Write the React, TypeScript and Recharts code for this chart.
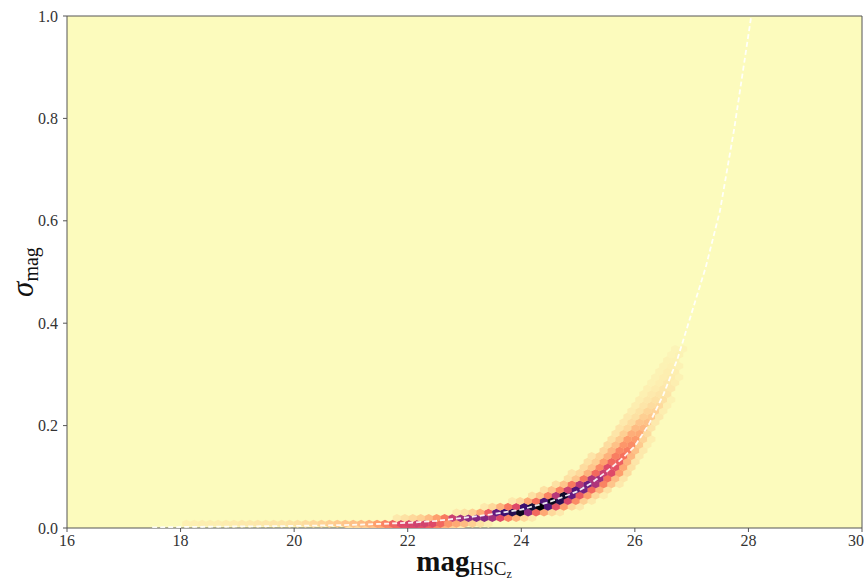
import React from 'react';
import { ComposedChart, Scatter, XAxis, YAxis, CartesianGrid, ReferenceLine } from 'recharts';

// tick marks
const xTicks = [16, 18, 20, 22, 24, 26, 28, 30];
const yTicks = [0, 0.2, 0.4, 0.6, 0.8, 1.0];

// white dashed error model curve [mag, sigma]
const modelCurve: [number, number][] = [
  [17.5, 0.001], [18, 0.002], [19, 0.003], [20, 0.004], [21, 0.006], [22, 0.01],
  [22.5, 0.014], [23, 0.02], [23.5, 0.027], [24, 0.036], [24.5, 0.051], [25, 0.072],
  [25.25, 0.089], [25.5, 0.11], [25.75, 0.133], [26, 0.16], [26.25, 0.203], [26.5, 0.26],
  [26.75, 0.33], [27, 0.42], [27.25, 0.51], [27.5, 0.62], [27.75, 0.78], [28.05, 1.0],
];

// hexbin cells [mag, sigma, level], level = log-count scaled 0..1
const bandBottom: [number, number, number][] = [
  [20.97, -0.0025, 0.06], [21.11, -0.0025, 0.08], [21.25, -0.0025, 0.1], [21.39, -0.0025, 0.13],
  [21.53, -0.0025, 0.18], [21.67, -0.0025, 0.25], [21.81, -0.0025, 0.32], [21.95, -0.0025, 0.38],
  [22.09, -0.0025, 0.4], [22.23, -0.0025, 0.38], [22.37, -0.0025, 0.33], [22.51, -0.0025, 0.25],
  [22.65, -0.0025, 0.16], [22.79, -0.0025, 0.1], [22.93, -0.0025, 0.05],
  [18.1, 0.0085, 0.025], [18.24, 0.0085, 0.025], [18.38, 0.0085, 0.03], [18.52, 0.0085, 0.03],
  [18.66, 0.0085, 0.03], [18.8, 0.0085, 0.035], [18.94, 0.0085, 0.035], [19.08, 0.0085, 0.04],
  [19.22, 0.0085, 0.04], [19.36, 0.0085, 0.045], [19.5, 0.0085, 0.045], [19.64, 0.0085, 0.05],
  [19.78, 0.0085, 0.05], [19.92, 0.0085, 0.055], [20.06, 0.0085, 0.06], [20.2, 0.0085, 0.07],
  [20.34, 0.0085, 0.08], [20.48, 0.0085, 0.09], [20.62, 0.0085, 0.1], [20.76, 0.0085, 0.11],
  [20.9, 0.0085, 0.12], [21.04, 0.0085, 0.13], [21.18, 0.0085, 0.14], [21.32, 0.0085, 0.16],
  [21.46, 0.0085, 0.2], [21.6, 0.0085, 0.26], [21.74, 0.0085, 0.33], [21.88, 0.0085, 0.4],
  [22.02, 0.0085, 0.42], [22.16, 0.0085, 0.44], [22.3, 0.0085, 0.43], [22.44, 0.0085, 0.4],
  [22.58, 0.0085, 0.32], [22.72, 0.0085, 0.22], [22.86, 0.0085, 0.18], [23.0, 0.0085, 0.14],
  [23.14, 0.0085, 0.1], [23.28, 0.0085, 0.06], [23.42, 0.0085, 0.03],
  [21.81, 0.0195, 0.04], [21.95, 0.0195, 0.06], [22.09, 0.0195, 0.08], [22.23, 0.0195, 0.1],
  [22.37, 0.0195, 0.14], [22.51, 0.0195, 0.2], [22.65, 0.0195, 0.28], [22.79, 0.0195, 0.45],
  [22.93, 0.0195, 0.55], [23.07, 0.0195, 0.6], [23.21, 0.0195, 0.62], [23.35, 0.0195, 0.62],
  [23.49, 0.0195, 0.55], [23.63, 0.0195, 0.4], [23.77, 0.0195, 0.26], [23.91, 0.0195, 0.16],
  [24.05, 0.0195, 0.08], [24.19, 0.0195, 0.04],
];

const bandCore: [number, number, number][] = [
  [22.86, 0.0305, 0.04], [23.0, 0.0305, 0.06], [23.14, 0.0305, 0.1], [23.28, 0.0305, 0.18],
  [23.42, 0.0305, 0.35], [23.56, 0.0305, 0.7], [23.7, 0.0305, 0.8], [23.84, 0.0305, 0.85],
  [23.98, 0.0305, 0.95], [24.12, 0.0305, 0.6], [24.26, 0.0305, 0.32], [24.4, 0.0305, 0.18],
  [24.54, 0.0305, 0.08], [24.68, 0.0305, 0.04],
  [23.35, 0.0415, 0.04], [23.49, 0.0415, 0.08], [23.63, 0.0415, 0.16], [23.77, 0.0415, 0.28],
  [23.91, 0.0415, 0.4], [24.05, 0.0415, 0.8], [24.19, 0.0415, 0.9], [24.33, 0.0415, 1.0],
  [24.47, 0.0415, 0.75], [24.61, 0.0415, 0.38], [24.75, 0.0415, 0.2], [24.89, 0.0415, 0.08],
  [25.03, 0.0415, 0.04],
  [23.84, 0.0525, 0.04], [23.98, 0.0525, 0.08], [24.12, 0.0525, 0.18], [24.26, 0.0525, 0.3],
  [24.4, 0.0525, 0.75], [24.54, 0.0525, 0.95], [24.68, 0.0525, 0.85], [24.82, 0.0525, 0.42],
  [24.96, 0.0525, 0.24], [25.1, 0.0525, 0.1], [25.24, 0.0525, 0.04],
  [24.19, 0.0635, 0.06], [24.33, 0.0635, 0.12], [24.47, 0.0635, 0.26], [24.61, 0.0635, 0.5],
  [24.75, 0.0635, 0.92], [24.89, 0.0635, 0.7], [25.03, 0.0635, 0.36], [25.17, 0.0635, 0.2],
  [25.31, 0.0635, 0.08], [25.45, 0.0635, 0.03],
  [24.4, 0.0745, 0.06], [24.54, 0.0745, 0.12], [24.68, 0.0745, 0.26], [24.82, 0.0745, 0.45],
  [24.96, 0.0745, 0.75], [25.1, 0.0745, 0.65], [25.24, 0.0745, 0.32], [25.38, 0.0745, 0.16],
  [25.52, 0.0745, 0.06],
  [24.61, 0.0855, 0.06], [24.75, 0.0855, 0.12], [24.89, 0.0855, 0.28], [25.03, 0.0855, 0.5],
  [25.17, 0.0855, 0.68], [25.31, 0.0855, 0.52], [25.45, 0.0855, 0.26], [25.59, 0.0855, 0.12],
  [25.73, 0.0855, 0.04],
  [24.82, 0.0965, 0.06], [24.96, 0.0965, 0.12], [25.1, 0.0965, 0.28], [25.24, 0.0965, 0.52],
  [25.38, 0.0965, 0.55], [25.52, 0.0965, 0.3], [25.66, 0.0965, 0.14], [25.8, 0.0965, 0.05],
];

const bandUpper: [number, number, number][] = [
  [24.89, 0.1075, 0.05], [25.03, 0.1075, 0.08], [25.17, 0.1075, 0.16], [25.31, 0.1075, 0.32],
  [25.45, 0.1075, 0.45], [25.59, 0.1075, 0.4], [25.73, 0.1075, 0.2], [25.87, 0.1075, 0.07],
  [25.1, 0.1185, 0.07], [25.24, 0.1185, 0.12], [25.38, 0.1185, 0.25], [25.52, 0.1185, 0.4],
  [25.66, 0.1185, 0.38], [25.8, 0.1185, 0.18], [25.94, 0.1185, 0.06],
  [25.17, 0.1295, 0.06], [25.31, 0.1295, 0.1], [25.45, 0.1295, 0.2], [25.59, 0.1295, 0.32],
  [25.73, 0.1295, 0.34], [25.87, 0.1295, 0.16], [26.01, 0.1295, 0.05],
  [25.24, 0.1405, 0.05], [25.38, 0.1405, 0.09], [25.52, 0.1405, 0.16], [25.66, 0.1405, 0.27],
  [25.8, 0.1405, 0.3], [25.94, 0.1405, 0.15], [26.08, 0.1405, 0.04],
  [25.45, 0.1515, 0.08], [25.59, 0.1515, 0.15], [25.73, 0.1515, 0.25], [25.87, 0.1515, 0.27],
  [26.01, 0.1515, 0.13], [26.15, 0.1515, 0.04],
  [25.52, 0.1625, 0.07], [25.66, 0.1625, 0.13], [25.8, 0.1625, 0.22], [25.94, 0.1625, 0.24],
  [26.08, 0.1625, 0.11], [26.22, 0.1625, 0.03],
  [25.59, 0.1735, 0.06], [25.73, 0.1735, 0.11], [25.87, 0.1735, 0.2], [26.01, 0.1735, 0.21],
  [26.15, 0.1735, 0.09], [26.29, 0.1735, 0.03],
  [25.66, 0.1845, 0.05], [25.8, 0.1845, 0.1], [25.94, 0.1845, 0.17], [26.08, 0.1845, 0.18],
  [26.22, 0.1845, 0.07],
  [25.73, 0.1955, 0.05], [25.87, 0.1955, 0.08], [26.01, 0.1955, 0.14], [26.15, 0.1955, 0.15],
  [26.29, 0.1955, 0.05],
  [25.8, 0.2065, 0.04], [25.94, 0.2065, 0.07], [26.08, 0.2065, 0.12], [26.22, 0.2065, 0.13],
  [26.36, 0.2065, 0.04],
];

const bandHalo: [number, number, number][] = [
  [25.87, 0.2175, 0.04], [26.01, 0.2175, 0.06], [26.15, 0.2175, 0.1], [26.29, 0.2175, 0.11],
  [26.43, 0.2175, 0.04],
  [25.94, 0.2285, 0.035], [26.08, 0.2285, 0.055], [26.22, 0.2285, 0.085], [26.36, 0.2285, 0.09],
  [26.5, 0.2285, 0.03],
  [26.01, 0.2395, 0.03], [26.15, 0.2395, 0.05], [26.29, 0.2395, 0.07], [26.43, 0.2395, 0.075],
  [26.57, 0.2395, 0.025],
  [26.08, 0.2505, 0.03], [26.22, 0.2505, 0.045], [26.36, 0.2505, 0.06], [26.5, 0.2505, 0.06],
  [26.64, 0.2505, 0.02],
  [26.15, 0.2615, 0.025], [26.29, 0.2615, 0.04], [26.43, 0.2615, 0.05], [26.57, 0.2615, 0.05],
  [26.22, 0.2725, 0.025], [26.36, 0.2725, 0.035], [26.5, 0.2725, 0.045], [26.64, 0.2725, 0.04],
  [26.29, 0.2835, 0.02], [26.43, 0.2835, 0.03], [26.57, 0.2835, 0.04], [26.71, 0.2835, 0.03],
  [26.36, 0.2945, 0.02], [26.5, 0.2945, 0.03], [26.64, 0.2945, 0.035], [26.78, 0.2945, 0.02],
  [26.43, 0.3055, 0.02], [26.57, 0.3055, 0.03], [26.71, 0.3055, 0.03],
  [26.5, 0.3165, 0.02], [26.64, 0.3165, 0.025], [26.78, 0.3165, 0.02],
  [26.57, 0.3275, 0.02], [26.71, 0.3275, 0.02],
  [26.64, 0.3385, 0.015], [26.78, 0.3385, 0.02],
  [26.71, 0.3495, 0.015], [26.85, 0.3495, 0.015],
];

const BG = '#fcfbbd';
const SERIF = '"Liberation Serif", "DejaVu Serif", serif';

// magma colormap, reversed so that empty bins are pale yellow
const magma = ['#000004', '#140e36', '#3b0f70', '#641a80', '#8c2981', '#b73779',
  '#de4968', '#f7705c', '#fe9f6d', '#fecf92', BG];

const hexToRgb = (h: string) => [1, 3, 5].map(i => parseInt(h.slice(i, i + 2), 16));

const levelColor = (level: number) => {
  const t = (1 - Math.max(0, Math.min(1, level))) * (magma.length - 1);
  const i = Math.min(Math.floor(t), magma.length - 2);
  const f = t - i;
  const a = hexToRgb(magma[i]);
  const b = hexToRgb(magma[i + 1]);
  const c = a.map((v, k) => Math.round(v + (b[k] - v) * f));
  return `rgb(${c[0]},${c[1]},${c[2]})`;
};

const hexCells = [...bandBottom, ...bandCore, ...bandUpper, ...bandHalo].map(([mag, sigma, level]) => ({
  mag, sigma, level,
}));
const curveData = modelCurve.map(([mag, sigma]) => ({ mag, sigma }));

const HexShape = (props: any) => {
  const { cx, cy, payload } = props;
  if (cx == null || cy == null) return <g />;
  const w = 4.1;
  const tip = 4.0;
  const sh = 2.0;
  const pts = [
    [cx, cy - tip], [cx + w, cy - sh], [cx + w, cy + sh],
    [cx, cy + tip], [cx - w, cy + sh], [cx - w, cy - sh],
  ].map(p => p.join(',')).join(' ');
  return <polygon points={pts} fill={levelColor(payload.level)} stroke="none" />;
};

const XLabel = () => (
  <text x={464} y={571} textAnchor="middle" fontFamily={SERIF} fill="#111">
    <tspan fontSize={29} fontWeight="bold">mag</tspan>
    <tspan fontSize={19} dy={4}>HSC</tspan>
    <tspan fontSize={12} dy={3}>z</tspan>
  </text>
);

const YLabel = () => (
  <text x={33} y={272} textAnchor="middle" fontFamily={SERIF} fill="#111" transform="rotate(-90 33 272)">
    <tspan fontSize={31} fontStyle="italic">σ</tspan>
    <tspan fontSize={20} dy={5}>mag</tspan>
  </text>
);

const App: React.FC = () => {
  return (
    <div style={{ position: 'absolute', left: 0, top: 0, background: '#fff' }}>
      <ComposedChart width={864} height={583} margin={{ top: 16, right: 2, bottom: 0, left: 0 }}>
        <CartesianGrid fill={BG} horizontal={false} vertical={false} />
        <XAxis
          dataKey="mag"
          type="number"
          domain={[16, 30]}
          ticks={xTicks}
          allowDataOverflow
          height={55}
          tickSize={4}
          tickMargin={3}
          stroke="#555"
          tick={{ fontFamily: SERIF, fontSize: 16, fill: '#333' }}
          label={{ content: () => <XLabel /> }}
        />
        <YAxis
          dataKey="sigma"
          type="number"
          domain={[0, 1]}
          ticks={yTicks}
          allowDataOverflow
          width={67}
          tickSize={4}
          tickMargin={5}
          stroke="#555"
          tickFormatter={(v: number) => v.toFixed(1)}
          tick={{ fontFamily: SERIF, fontSize: 16, fill: '#333' }}
          label={{ content: () => <YLabel /> }}
        />
        <Scatter data={hexCells} shape={<HexShape />} isAnimationActive={false} />
        <Scatter
          data={curveData}
          line={{ stroke: '#ffffff', strokeWidth: 1.8, strokeDasharray: '5 3', strokeOpacity: 0.9 }}
          lineType="joint"
          shape={() => <g />}
          isAnimationActive={false}
        />
        <ReferenceLine x={30} stroke="#555" />
        <ReferenceLine y={1} stroke="#555" />
      </ComposedChart>
    </div>
  );
};

export default App;
